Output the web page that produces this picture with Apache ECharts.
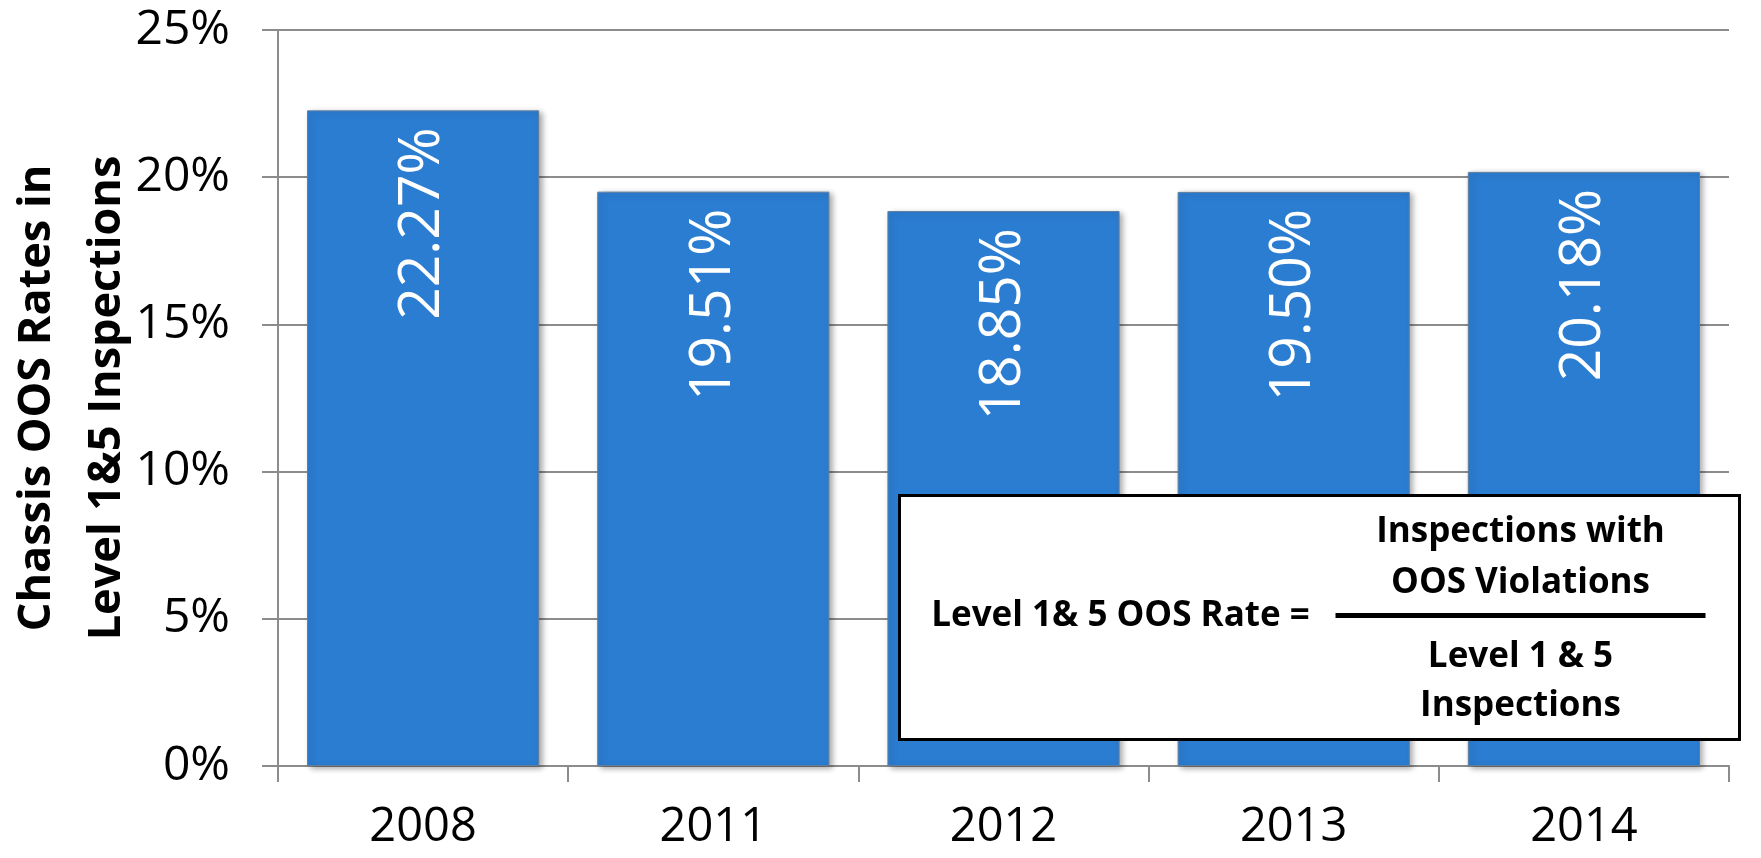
<!DOCTYPE html>
<html>
<head>
<meta charset="utf-8">
<script src="https://cdn.jsdelivr.net/npm/echarts@6/dist/echarts.min.js"></script>
<style>
  html, body { margin: 0; padding: 0; background: #fff; }
  #chart { width: 1761px; height: 858px; }
</style>
</head>
<body>
<div id="chart"></div>
<script>
// data
var years = ["2008", "2011", "2012", "2013", "2014"];
var oosRates = [22.27, 19.51, 18.85, 19.5, 20.18];
var rateTicks = [0, 5, 10, 15, 20, 25];

var myChart = echarts.init(document.getElementById("chart"));
var font = "'Open Sans', sans-serif";
var boxFont = "bold 35px 'Open Sans', sans-serif";

var option = {
  animation: false,
  grid: {
    left: 278,
    right: 32,
    top: 30,
    bottom: 92,
    outerBoundsMode: "none",
  },
  xAxis: {
    type: "category",
    data: years,
    axisLine: {
      lineStyle: { color: "#8c8c8c", width: 2 },
    },
    axisTick: {
      show: true,
      length: 16,
      lineStyle: { color: "#8c8c8c", width: 2 },
    },
    axisLabel: {
      color: "#000",
      fontFamily: font,
      fontSize: 47,
      margin: 38,
    },
  },
  yAxis: {
    type: "value",
    min: rateTicks[0],
    max: rateTicks[rateTicks.length - 1],
    interval: 5,
    name: "Chassis OOS Rates in\nLevel 1&5 Inspections",
    nameLocation: "middle",
    nameMoveOverlap: false,
    nameGap: 136,
    nameTextStyle: {
      color: "#000",
      fontFamily: font,
      fontWeight: "bold",
      fontSize: 45,
      lineHeight: 70,
    },
    axisLine: {
      show: true,
      lineStyle: { color: "#8c8c8c", width: 2 },
    },
    axisTick: {
      show: true,
      length: 16,
      lineStyle: { color: "#8c8c8c", width: 2 },
    },
    splitLine: {
      lineStyle: { color: "#8c8c8c", width: 2 },
    },
    axisLabel: {
      color: "#000",
      fontFamily: font,
      fontSize: 48,
      margin: 48,
      formatter: "{value}%",
    },
  },
  series: [
    {
      type: "bar",
      data: oosRates,
      barCategoryGap: "20%",
      itemStyle: {
        color: "#2b7dd2",
        borderColor: "#5f7f9f",
        borderWidth: 1,
        shadowColor: "rgba(0,0,0,0.35)",
        shadowBlur: 6,
        shadowOffsetX: 3,
        shadowOffsetY: 2,
      },
      label: {
        show: true,
        position: "insideTop",
        rotate: 90,
        align: "right",
        verticalAlign: "middle",
        distance: 17,
        color: "#fff",
        fontFamily: font,
        fontSize: 57,
        formatter(p) {
          return p.value.toFixed(2) + "%";
        },
      },
    },
  ],
  graphic: [
    {
      type: "group",
      left: 898,
      top: 494,
      z: 100,
      children: [
        {
          type: "rect",
          z: 100,
          shape: { x: 0, y: 0, width: 840, height: 244 },
          style: { fill: "#fff", stroke: "#000", lineWidth: 3 },
        },
        {
          type: "text",
          z: 101,
          x: 221,
          y: 121,
          style: {
            text: "Level 1& 5 OOS Rate =",
            fill: "#000",
            font: boxFont,
            align: "center",
            verticalAlign: "middle",
          },
        },
        {
          type: "line",
          z: 101,
          shape: { x1: 436, y1: 120, x2: 806, y2: 120 },
          style: { stroke: "#000", lineWidth: 5 },
        },
        {
          type: "text",
          z: 101,
          x: 621,
          y: 62,
          style: {
            text: "Inspections with\nOOS Violations",
            fill: "#000",
            font: boxFont,
            lineHeight: 51,
            align: "center",
            verticalAlign: "middle",
          },
        },
        {
          type: "text",
          z: 101,
          x: 621,
          y: 186,
          style: {
            text: "Level 1 & 5\nInspections",
            fill: "#000",
            font: boxFont,
            lineHeight: 49,
            align: "center",
            verticalAlign: "middle",
          },
        },
      ],
    },
  ],
};

myChart.setOption(option);
window.addEventListener("resize", () => {
  myChart.resize();
});
</script>
</body>
</html>
